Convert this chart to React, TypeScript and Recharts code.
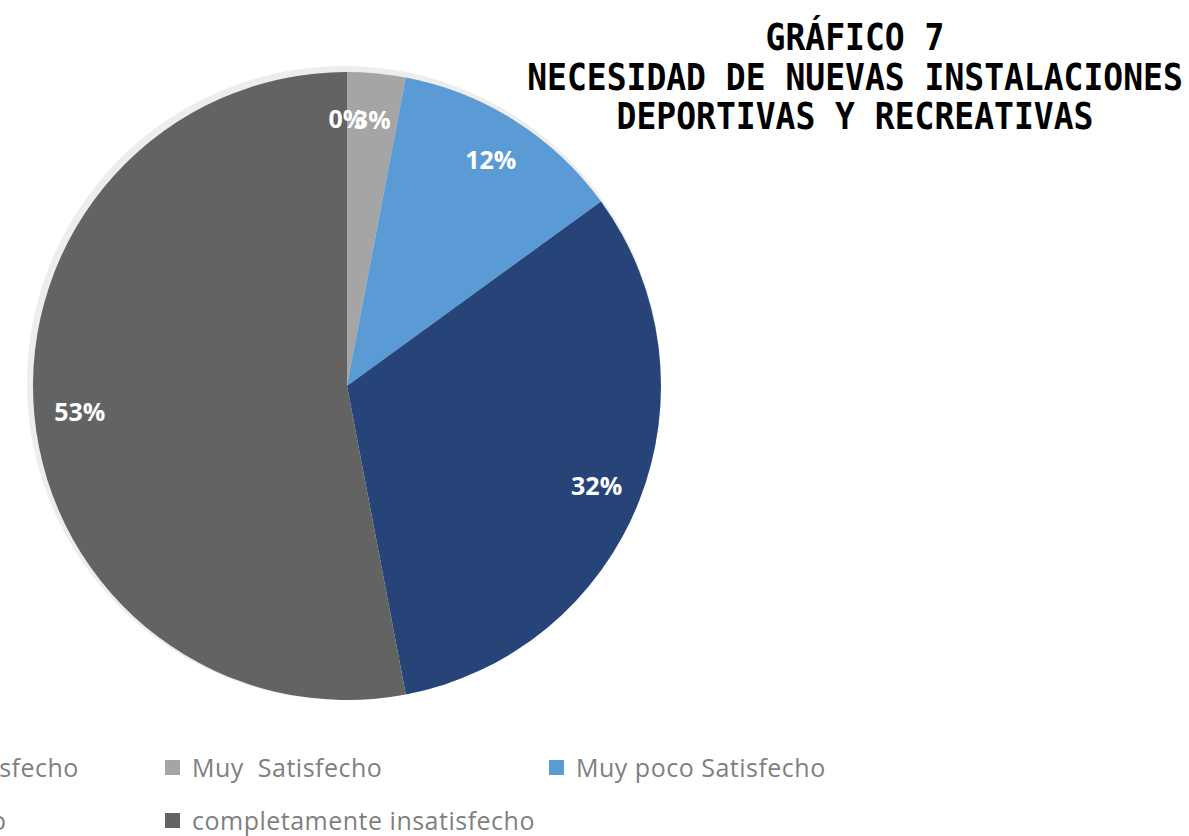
import React from "react";
import { PieChart, Pie, Cell, Legend } from "recharts";

const categories = [
  "Totalmente Satisfecho",
  "Muy  Satisfecho",
  "Muy poco Satisfecho",
  "Poco  Satisfecho",
  "completamente insatisfecho",
];
const values = [0, 3, 12, 32, 53];
const colors = ["#2E75B6", "#A5A5A5", "#5B9BD5", "#264478", "#636363"];
const titleLines = [
  "GRÁFICO 7",
  "NECESIDAD DE NUEVAS INSTALACIONES",
  "DEPORTIVAS Y RECREATIVAS",
];

const data = categories.map((name, i) => ({ name, value: values[i] }));
const shadowData = [{ name: "shadow", value: 1 }];

const RAD = Math.PI / 180;

const renderLabel = (props: any) => {
  const { cx, cy, midAngle, outerRadius, value } = props;
  const r = outerRadius * 0.855;
  const x = cx + r * Math.cos(-midAngle * RAD);
  const y = cy + r * Math.sin(-midAngle * RAD);
  return (
    <text
      x={x}
      y={y}
      fill="#ffffff"
      textAnchor="middle"
      dominantBaseline="central"
      fontFamily="'Open Sans', 'Liberation Sans', sans-serif"
      fontWeight={700}
      fontSize={25}
    >
      {`${value}%`}
    </text>
  );
};

const colX = [-218, 165, 549];
const rowY = [767, 820];

const renderLegend = () => (
  <div style={{ position: "relative", width: 1189, height: 90 }}>
    {categories.map((name, i) => {
      const col = i % 3;
      const row = Math.floor(i / 3);
      return (
        <div
          key={name}
          style={{
            position: "absolute",
            left: colX[col],
            top: rowY[row] - 745 - 18,
            height: 36,
            display: "flex",
            alignItems: "center",
            whiteSpace: "pre",
            fontFamily: "'Open Sans', 'Liberation Sans', sans-serif",
            fontSize: 25,
            letterSpacing: 0.5,
            color: "#7F7F7F",
          }}
        >
          <span
            style={{
              display: "inline-block",
              width: 15,
              height: 15,
              background: colors[i],
              marginRight: 12,
            }}
          />
          {name}
        </div>
      );
    })}
  </div>
);

export default function App() {
  return (
    <div
      style={{
        position: "absolute",
        left: 0,
        top: 0,
        width: 1189,
        height: 836,
        overflow: "hidden",
        background: "#ffffff",
      }}
    >
      <PieChart width={1189} height={836} margin={{ top: 0, right: 0, bottom: 0, left: 0 }}>
        <Pie
          data={shadowData}
          dataKey="value"
          cx={344}
          cy={383}
          outerRadius={317}
          startAngle={90}
          endAngle={-270}
          stroke="none"
          fill="#ededed"
          isAnimationActive={false}
          legendType="none"
        />
        <Pie
          data={data}
          dataKey="value"
          nameKey="name"
          cx={347}
          cy={386}
          outerRadius={314}
          startAngle={90}
          endAngle={-270}
          stroke="none"
          label={renderLabel}
          labelLine={false}
          isAnimationActive={false}
        >
          {data.map((d, i) => (
            <Cell key={d.name} fill={colors[i]} />
          ))}
        </Pie>
        <Legend
          content={renderLegend}
          wrapperStyle={{ position: "absolute", left: 0, top: 745, width: 1189, height: 90 }}
        />
      </PieChart>
      <div
        style={{
          position: "absolute",
          left: 520,
          top: 18,
          width: 670,
          textAlign: "center",
          fontFamily: "'DejaVu Sans Mono', monospace",
          fontWeight: 700,
          fontSize: 33,
          lineHeight: "39.5px",
          color: "#000000",
        }}
      >
        {titleLines.map((t) => (
          <div key={t} style={{ transform: "scaleY(1.12)" }}>
            {t}
          </div>
        ))}
      </div>
    </div>
  );
}
